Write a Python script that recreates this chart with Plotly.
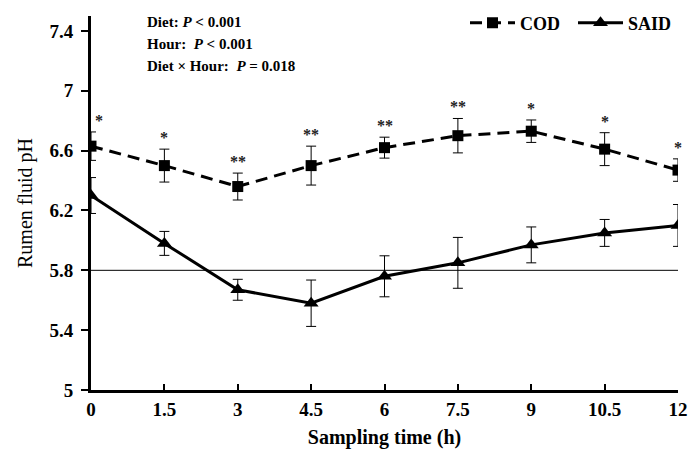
import plotly.graph_objects as go

hours = [0, 1.5, 3, 4.5, 6, 7.5, 9, 10.5, 12]
cod_ph = [6.63, 6.50, 6.36, 6.50, 6.62, 6.70, 6.73, 6.61, 6.47]
cod_se = [0.095, 0.11, 0.09, 0.13, 0.07, 0.115, 0.075, 0.11, 0.075]
said_ph = [6.30, 5.98, 5.67, 5.58, 5.76, 5.85, 5.97, 6.05, 6.10]
said_se = [0.12, 0.08, 0.07, 0.155, 0.137, 0.17, 0.12, 0.09, 0.14]
sig_marks = ["*", "*", "**", "**", "**", "**", "*", "*", "*"]
threshold = 5.8
x_ticks = [0, 1.5, 3, 4.5, 6, 7.5, 9, 10.5, 12]
x_tick_text = ["0", "1.5", "3", "4.5", "6", "7.5", "9", "10.5", "12"]
y_ticks = [5, 5.4, 5.8, 6.2, 6.6, 7, 7.4]
y_tick_text = ["5", "5.4", "5.8", "6.2", "6.6", "7", "7.4"]

FONT = "Liberation Serif"

fig = go.Figure()

fig.add_trace(go.Scatter(
    x=hours, y=cod_ph, name="<b>COD</b>", mode="lines+markers",
    line=dict(color="black", width=3, dash="12px,7px"),
    marker=dict(symbol="square", size=11, color="black"),
    error_y=dict(type="data", array=cod_se, color="black", thickness=1, width=5),
))
fig.add_trace(go.Scatter(
    x=hours, y=said_ph, name="<b>SAID</b>", mode="lines+markers",
    line=dict(color="black", width=3),
    marker=dict(symbol="triangle-up", size=13, color="black"),
    error_y=dict(type="data", array=said_se, color="black", thickness=1, width=5),
))

fig.add_shape(type="line", xref="paper", x0=0, x1=1, yref="y", y0=threshold, y1=threshold,
              line=dict(color="black", width=1))

for h, v, e, s in zip(hours, cod_ph, cod_se, sig_marks):
    fig.add_annotation(x=h, y=v + e, text="<b>%s</b>" % s, showarrow=False, yanchor="bottom",
                       xshift=8 if h == 0 else 0, yshift=1,
                       font=dict(family=FONT, size=16, color="#222222"))

stats = ["<b>Diet: <i>P</i> < 0.001</b>",
         "<b>Hour:  <i>P</i> < 0.001</b>",
         "<b>Diet × Hour:  <i>P</i> = 0.018</b>"]
for i, t in enumerate(stats):
    fig.add_annotation(xref="paper", yref="paper", x=0.092, y=1.012, xanchor="left", yanchor="top",
                       yshift=-22 * i, text=t, showarrow=False,
                       font=dict(family=FONT, size=15, color="black"))

fig.update_layout(
    width=693, height=452,
    margin=dict(l=91, r=15, t=16, b=62, autoexpand=False),
    plot_bgcolor="white", paper_bgcolor="white",
    font=dict(family=FONT, color="black"),
    showlegend=True,
    legend=dict(orientation="h", xref="container", yref="container",
                x=465 / 693, xanchor="left", y=0.99, yanchor="top",
                font=dict(family=FONT, size=18, color="black"), bgcolor="rgba(0,0,0,0)",
                itemwidth=45, entrywidth=48),
)
fig.update_xaxes(range=[0, 12], tickvals=x_ticks, ticktext=["<b>%s</b>" % t for t in x_tick_text],
                 showgrid=False, zeroline=False, showline=True, linecolor="black", linewidth=3,
                 ticks="inside", ticklen=6, tickwidth=2, tickcolor="black", ticklabelstandoff=0,
                 tickfont=dict(family=FONT, size=19, color="black"), automargin=False,
                 title=dict(text="<b>Sampling time (h)</b>", font=dict(family=FONT, size=20), standoff=12))
fig.update_yaxes(range=[5, 7.5], tickvals=y_ticks, ticktext=["<b>%s</b>" % t for t in y_tick_text],
                 showgrid=False, zeroline=False, showline=True, linecolor="black", linewidth=3,
                 ticks="outside", ticklen=7, tickwidth=2, tickcolor="black", ticklabelstandoff=4,
                 tickfont=dict(family=FONT, size=19, color="black"), automargin=False,
                 title=dict(text="Rumen fluid pH", font=dict(family=FONT, size=20), standoff=12))

fig.write_html("out.html")
